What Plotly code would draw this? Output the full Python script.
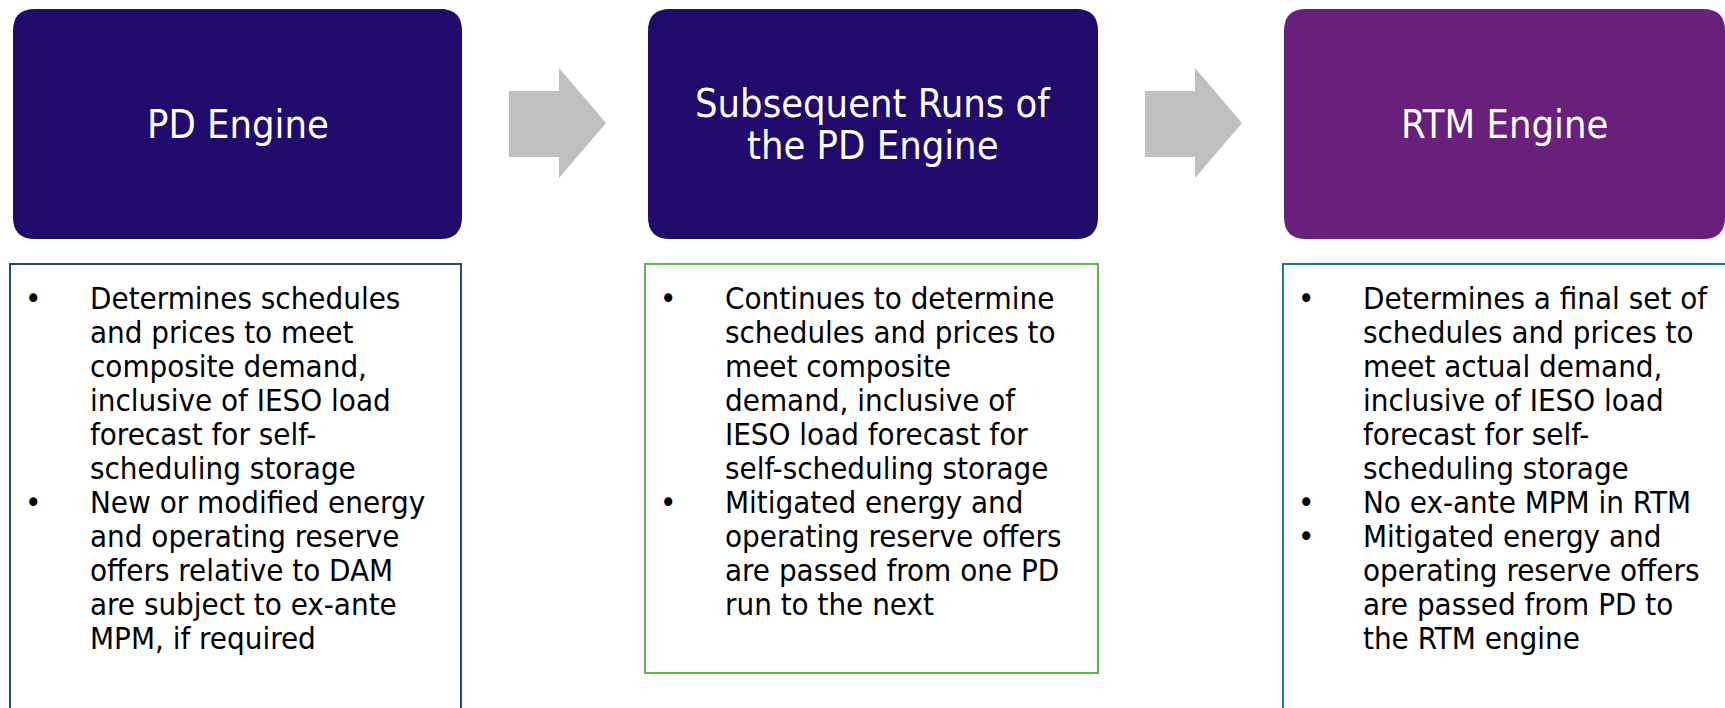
import plotly.graph_objects as go

# ---- content ----
titles = [["PD Engine"], ["Subsequent Runs of", "the PD Engine"], ["RTM Engine"]]
title_fills = ["#200B6D", "#200B6D", "#68207A"]
frame_colors = ["#24497D", "#5DB74A", "#1E7E7E"]

bullets_pd = [
    ["Determines schedules", "and prices to meet", "composite demand,", "inclusive of IESO load",
     "forecast for self-", "scheduling storage"],
    ["New or modified energy", "and operating reserve", "offers relative to DAM",
     "are subject to ex-ante", "MPM, if required"],
]
bullets_sub = [
    ["Continues to determine", "schedules and prices to", "meet composite", "demand, inclusive of",
     "IESO load forecast for", "self-scheduling storage"],
    ["Mitigated energy and", "operating reserve offers", "are passed from one PD", "run to the next"],
]
bullets_rtm = [
    ["Determines a final set of", "schedules and prices to", "meet actual demand,",
     "inclusive of IESO load", "forecast for self-", "scheduling storage"],
    ["No ex-ante MPM in RTM"],
    ["Mitigated energy and", "operating reserve offers", "are passed from PD to", "the RTM engine"],
]
bullet_groups = [bullets_pd, bullets_sub, bullets_rtm]

# ---- layout geometry (page pixels) ----
W, H = 1725, 708
box_x = [(13, 462), (648, 1098), (1284, 1725)]
box_y = (9, 239)
radius = 22
frame_x = [(10, 461), (645, 1098), (1283, 1745)]
frame_y = [(264, 740), (264, 673), (264, 740)]
arrow_x0 = [509, 1145]
bullet_dx = 23
text_dx = 78
line0_y = 298
line_step = 34
FONT = "DejaVu Sans Condensed, DejaVu Sans, sans-serif"

fig = go.Figure()
shapes = []
annotations = []


def rounded_rect(x0, x1, y0, y1, r):
    return (f"M {x0+r},{y0} L {x1-r},{y0} Q {x1},{y0} {x1},{y0+r} "
            f"L {x1},{y1-r} Q {x1},{y1} {x1-r},{y1} L {x0+r},{y1} "
            f"Q {x0},{y1} {x0},{y1-r} L {x0},{y0+r} Q {x0},{y0} {x0+r},{y0} Z")


for i, (x0, x1) in enumerate(box_x):
    shapes.append(dict(type="path", path=rounded_rect(x0, x1, box_y[0], box_y[1], radius),
                       fillcolor=title_fills[i], line=dict(width=0), layer="below"))
    cx = (x0 + x1) / 2
    cy = (box_y[0] + box_y[1]) / 2
    n = len(titles[i])
    tstep = 42
    for j, t in enumerate(titles[i]):
        annotations.append(dict(x=cx, y=cy + (j - (n - 1) / 2) * tstep, text=t, showarrow=False,
                                xanchor="center", yanchor="middle",
                                font=dict(family=FONT, size=39.5, color="white")))
    fx0, fx1 = frame_x[i]
    fy0, fy1 = frame_y[i]
    shapes.append(dict(type="rect", x0=fx0, x1=fx1, y0=fy0, y1=fy1,
                       line=dict(color=frame_colors[i], width=2), fillcolor="white", layer="below"))
    k = 0
    for group in bullet_groups[i]:
        for j, line in enumerate(group):
            y = line0_y + k * line_step
            if j == 0:
                annotations.append(dict(x=fx0 + bullet_dx, y=y, text="•", showarrow=False,
                                        xanchor="center", yanchor="middle",
                                        font=dict(family=FONT, size=31, color="black")))
            annotations.append(dict(x=fx0 + text_dx, y=y, text=line, showarrow=False,
                                    xanchor="left", yanchor="middle",
                                    font=dict(family=FONT, size=31, color="black")))
            k += 1

# arrows
for ax in arrow_x0:
    body_w, head_w = 50, 47
    p = (f"M {ax},91 L {ax+body_w},91 L {ax+body_w},68 L {ax+body_w+head_w},123 "
         f"L {ax+body_w},178 L {ax+body_w},157 L {ax},157 Z")
    shapes.append(dict(type="path", path=p, fillcolor="#BFBFBF", line=dict(width=0)))

fig.update_layout(
    width=W, height=H, margin=dict(l=0, r=0, t=0, b=0),
    paper_bgcolor="white", plot_bgcolor="white",
    xaxis=dict(range=[0, W], visible=False, fixedrange=True),
    yaxis=dict(range=[H, 0], visible=False, fixedrange=True),
    shapes=shapes, annotations=annotations, showlegend=False,
)
fig.write_html(
    "out.html",
    config={"displayModeBar": False},
    post_script="document.body.style.margin='0';document.body.style.overflow='hidden';",
)
